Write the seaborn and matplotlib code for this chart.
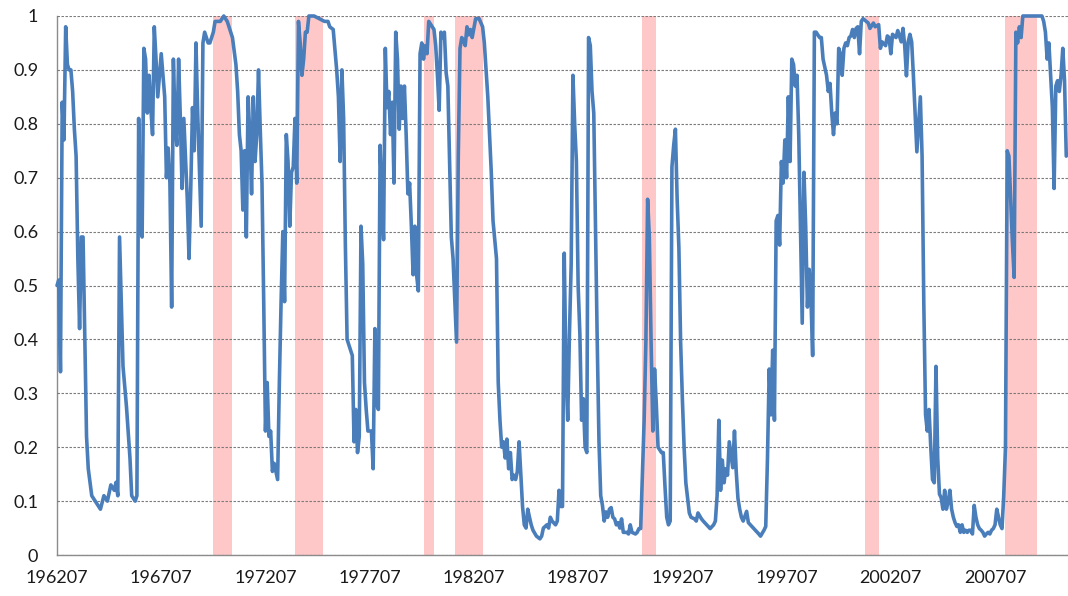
import numpy as np
import seaborn as sns
import matplotlib.pyplot as plt

# months counted from 1962-07 (0 = 196207)
months = [
    0, 1, 2, 3, 4, 5, 6, 7, 8, 9, 10, 11, 12, 13, 14, 15, 16, 17, 18, 20, 22, 25, 27, 29, 31, 33, 34, 35,
    36, 38, 40, 42, 43, 45, 46, 47, 48, 49, 50, 51, 52, 53, 54, 55, 56, 57, 58, 60, 61, 62, 63, 64, 65,
    66, 67, 68, 69, 70, 71, 72, 73, 75, 76, 77, 78, 79, 80, 81, 83, 84, 85, 87, 88, 90, 91, 94,
    96, 98, 100, 101, 103, 104, 105, 106, 107, 108, 109, 110, 111, 112, 113, 114, 115, 116, 117, 118,
    119, 120, 121, 122, 123, 124, 125, 127, 128, 129, 130, 131, 132, 133, 134, 135, 136, 137, 138, 139,
    140, 141, 142, 143, 144, 145, 148, 151, 154, 156, 157, 159, 161, 162, 163, 164, 165, 166, 167, 170,
    171, 172, 173, 174, 175, 176, 177, 178, 179, 181, 182, 183, 184, 185,
    186, 187, 188, 189, 190, 191, 192, 193, 194, 195, 196, 197, 198, 199, 200, 201, 202, 203, 204, 205,
    206, 207, 208, 209, 210, 211, 212, 213, 214, 215, 216, 217, 218, 219, 220, 221, 222, 223, 224, 225,
    226, 227, 228, 230, 231, 232, 233, 234, 235, 236, 237, 238, 239, 241, 243, 245, 246, 248, 249, 250,
    251, 253, 254, 255, 256, 257, 258, 259, 260, 261, 262, 263, 264, 265, 266, 267, 268, 269, 270, 271,
    272, 273, 274, 276, 278, 279, 280, 281, 282, 283, 284, 285, 287, 288, 289, 290,
    291, 292, 293, 294, 295, 296, 297, 298, 299, 300, 301, 302, 303, 304, 305, 306, 307, 308, 309, 310,
    311, 312, 313, 314, 315, 316, 317, 318, 319, 320, 321, 322, 323, 324, 325, 326, 328, 329, 330, 331,
    333, 334, 335, 336, 338, 339, 340, 341, 342, 343, 344, 345, 346, 348, 349, 350, 351, 352, 353, 354,
    355, 356, 357, 358, 359, 360, 361, 362, 364, 365, 367, 368, 369, 371, 372, 374, 376, 378, 379, 380,
    381, 382, 383, 384, 385, 386, 387,
    389, 390, 391, 392, 393, 394, 395, 397, 398, 400, 402, 404, 405, 407, 408, 409, 410, 411, 412, 413,
    414, 415, 416, 417, 418, 419, 420, 421, 422, 423, 424, 425, 426, 427, 428, 429, 430, 431, 432, 433,
    434, 435, 436, 437, 438, 439, 440, 441, 443, 444, 445, 446, 447, 448, 449, 450, 451, 452, 453, 454,
    455, 456, 457, 458, 459, 460, 461, 462, 463, 464, 467, 468, 470, 471, 473, 474, 475, 477, 478, 479,
    480, 481, 483, 484,
    486, 487, 488, 489, 490, 491, 492, 493, 494, 495, 496, 497, 498, 499, 500, 501, 502, 503, 504, 505,
    506, 507, 508, 509, 510, 511, 512, 513, 514, 515, 516, 517, 518, 519, 520, 521, 522, 523, 524, 525,
    526, 527, 528, 529, 530, 531, 532, 533, 534, 535, 536, 537, 538, 539, 540, 541, 542, 543, 544, 545,
    546, 547, 548, 549, 550, 551, 552, 553, 554, 555, 556, 567, 568, 569, 570, 571, 572, 573, 574, 575,
    576, 577, 578, 579, 580, 581,
]
values = [
    0.50, 0.51, 0.34, 0.84, 0.77, 0.98, 0.91, 0.90, 0.90, 0.86, 0.79, 0.74, 0.55, 0.42, 0.59, 0.59, 0.41,
    0.22, 0.16, 0.11, 0.10, 0.085, 0.11, 0.10, 0.13, 0.12, 0.135, 0.11,
    0.59, 0.35, 0.275, 0.18, 0.11, 0.10, 0.11, 0.81, 0.61, 0.59, 0.94, 0.92, 0.82, 0.89, 0.83, 0.78, 0.98,
    0.92, 0.85, 0.93, 0.89, 0.85, 0.70, 0.755, 0.69,
    0.46, 0.92, 0.80, 0.76, 0.92, 0.81, 0.68, 0.81, 0.66, 0.55, 0.68, 0.83, 0.75, 0.95, 0.82, 0.61, 0.95,
    0.97, 0.95, 0.95, 0.97, 0.99, 0.99,
    1.0, 0.99, 0.97, 0.96, 0.91, 0.86, 0.78, 0.75, 0.64, 0.75, 0.59, 0.85, 0.78, 0.67, 0.85, 0.73, 0.78,
    0.90, 0.79, 0.69,
    0.47, 0.23, 0.32, 0.22, 0.23, 0.155, 0.17, 0.14, 0.32, 0.47, 0.60, 0.47, 0.78, 0.73, 0.61, 0.71, 0.72,
    0.81, 0.69, 0.99,
    0.95, 0.89, 0.92, 0.97, 0.97, 1.0, 1.0, 0.995, 0.99, 0.99, 0.98, 0.975, 0.90, 0.85, 0.73, 0.90, 0.81,
    0.575, 0.40, 0.37,
    0.21, 0.27, 0.19, 0.22, 0.61, 0.54, 0.32, 0.27, 0.23, 0.23, 0.16, 0.42, 0.28, 0.27,
    0.76, 0.66, 0.585, 0.94, 0.83, 0.86, 0.78, 0.84, 0.69, 0.97, 0.92, 0.79, 0.87, 0.81, 0.87, 0.78, 0.67,
    0.69, 0.61, 0.52,
    0.61, 0.52, 0.49, 0.93, 0.95, 0.92, 0.945, 0.93, 0.99, 0.985, 0.98, 0.975, 0.945, 0.89, 0.825, 0.97,
    0.96, 0.97, 0.895, 0.87,
    0.73, 0.59, 0.55, 0.395, 0.74, 0.94, 0.96, 0.955, 0.945, 0.98, 0.965, 0.975, 0.96, 0.995, 0.995, 0.98,
    0.95, 0.85, 0.78, 0.71,
    0.62, 0.55, 0.32, 0.25, 0.20, 0.21, 0.18, 0.215, 0.16, 0.19, 0.14, 0.148, 0.14, 0.155, 0.21, 0.15,
    0.09, 0.056, 0.05, 0.085,
    0.07, 0.056, 0.046, 0.035, 0.03, 0.035, 0.05, 0.053, 0.056, 0.05, 0.07, 0.063, 0.056, 0.063, 0.12, 0.09,
    0.09, 0.56, 0.34, 0.25, 0.41, 0.54, 0.89, 0.80, 0.73, 0.50, 0.41, 0.25, 0.29, 0.20, 0.19, 0.96, 0.945,
    0.86, 0.82, 0.61,
    0.395, 0.21, 0.11, 0.092, 0.063, 0.08, 0.07, 0.085, 0.088, 0.07, 0.067, 0.056, 0.06, 0.05, 0.067,
    0.042, 0.042, 0.039, 0.056, 0.042,
    0.039, 0.042, 0.049, 0.049, 0.25, 0.395, 0.66, 0.59, 0.395, 0.23, 0.345, 0.28, 0.20, 0.19, 0.19, 0.127,
    0.07, 0.056, 0.063, 0.72,
    0.76, 0.79, 0.66, 0.57, 0.395, 0.29, 0.20, 0.134, 0.078, 0.07, 0.067, 0.063, 0.078, 0.067, 0.063,
    0.056, 0.049, 0.056, 0.063, 0.11,
    0.25, 0.12, 0.176, 0.134, 0.16, 0.148, 0.21,
    0.162, 0.23, 0.155, 0.105, 0.085, 0.07, 0.063, 0.081, 0.06, 0.053, 0.046, 0.039, 0.035, 0.046, 0.053,
    0.18, 0.345, 0.26, 0.38, 0.25,
    0.62, 0.63, 0.575, 0.73, 0.69, 0.77, 0.70, 0.85, 0.73, 0.92, 0.91, 0.87, 0.89, 0.78, 0.61, 0.43, 0.71,
    0.61, 0.46, 0.53,
    0.48, 0.37, 0.97, 0.97, 0.965, 0.96, 0.96, 0.92, 0.89, 0.86, 0.875, 0.82, 0.78, 0.82, 0.80, 0.94, 0.93,
    0.89, 0.94, 0.95,
    0.945, 0.96, 0.963, 0.975, 0.96, 0.977, 0.98, 0.93, 0.99, 0.995, 0.987, 0.977, 0.987, 0.98, 0.984,
    0.94, 0.952, 0.945, 0.963, 0.96,
    0.93, 0.966, 0.96, 0.973,
    0.952, 0.977, 0.945, 0.889, 0.952, 0.966, 0.952, 0.889, 0.818, 0.748, 0.80, 0.85, 0.74, 0.465, 0.26,
    0.23, 0.27, 0.20, 0.14, 0.134,
    0.35, 0.18, 0.113, 0.106, 0.085, 0.12, 0.085, 0.099, 0.12, 0.085, 0.07, 0.06, 0.053, 0.056, 0.042,
    0.056, 0.042, 0.046, 0.042, 0.046,
    0.046, 0.039, 0.092, 0.07, 0.056, 0.049, 0.046, 0.042, 0.035, 0.039, 0.042, 0.039, 0.046, 0.049, 0.056,
    0.085, 0.07, 0.056, 0.049, 0.11,
    0.20, 0.75, 0.74, 0.66, 0.58, 0.515, 0.97, 0.95, 0.98, 0.96, 1.0, 1.0, 0.99, 0.97, 0.92, 0.95, 0.89,
    0.83, 0.68, 0.87,
    0.88, 0.86, 0.89, 0.94, 0.88, 0.74,
]

# NBER recessions (peak month, trough month)
recessions = [('196912', '197011'), ('197311', '197503'), ('198001', '198007'), ('198107', '198211'),
              ('199007', '199103'), ('200103', '200111'), ('200712', '200906')]

tick_labels = ['196207', '196707', '197207', '197707', '198207', '198707', '199207', '199707', '200207', '200707']
ytick_labels = ['0', '0.1', '0.2', '0.3', '0.4', '0.5', '0.6', '0.7', '0.8', '0.9', '1']


def month_offset(yyyymm):
    return (int(yyyymm[:4]) - 1962) * 12 + int(yyyymm[4:]) - 7


sns.set_style('white')
plt.rcParams['font.family'] = ['Lato', 'DejaVu Sans']

fig = plt.figure(figsize=(10.68, 5.96), dpi=100)
ax = fig.add_axes([57 / 1068, 41 / 596, 1011 / 1068, 539 / 596])

# recession shading
for start, end in recessions:
    ax.axvspan(month_offset(start) + 1, month_offset(end) + 1, color='#ffc8c8', lw=0, zorder=1)

sns.lineplot(x=months, y=values, color='#4a7ebb', linewidth=2.6, ax=ax, zorder=3)
ax.lines[-1].set_clip_on(False)

ax.set_xlim(0, 582)
ax.set_ylim(0, 1)
ax.set_xticks([month_offset(t) for t in tick_labels])
ax.set_xticklabels(tick_labels)
ax.set_yticks(np.linspace(0, 1, len(ytick_labels)))
ax.set_yticklabels(ytick_labels)

ax.yaxis.grid(True, linestyle=(0, (2.2, 1.4)), color='#7a7a7a', linewidth=0.8, zorder=2)
ax.set_axisbelow(False)
ax.xaxis.grid(False)

for side in ['top', 'right']:
    ax.spines[side].set_visible(False)
for side in ['left', 'bottom']:
    ax.spines[side].set_color('#8c8c8c')
    ax.spines[side].set_linewidth(1.0)

ax.tick_params(axis='x', direction='in', length=5, width=1, color='#8c8c8c', labelsize=13, pad=11, labelcolor='#1a1a1a')
ax.tick_params(axis='y', direction='out', length=5, width=1, color='#8c8c8c', labelsize=13, pad=8.5, labelcolor='#1a1a1a')
ax.set_xlabel('')
ax.set_ylabel('')

fig.savefig('out.png', dpi=100)
